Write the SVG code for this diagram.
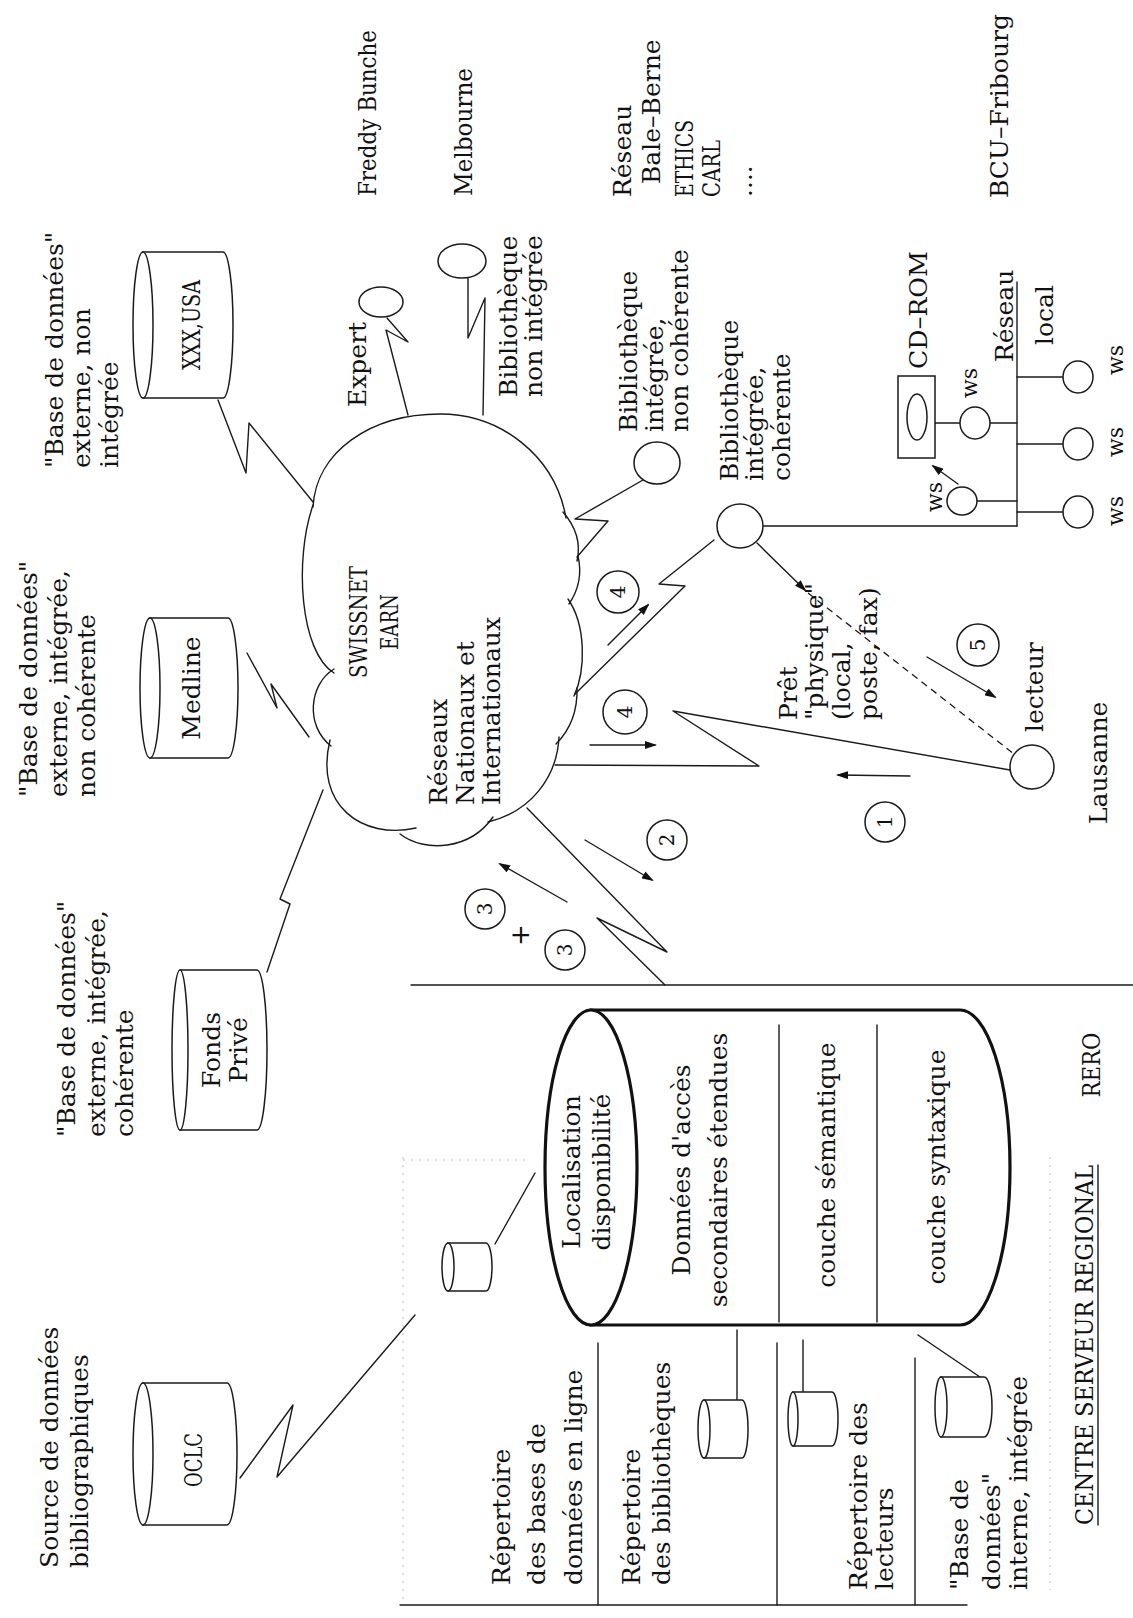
<svg xmlns="http://www.w3.org/2000/svg" width="1133" height="1618" viewBox="0 0 1133 1618">
<style>
.ln{fill:none;stroke:#1a1a1a;stroke-width:1.4;stroke-linejoin:round;stroke-linecap:round}
.sh{fill:#fff;stroke:#1a1a1a;stroke-width:1.5}
.thick{fill:#fff;stroke:#111;stroke-width:3.2}
.dash{fill:none;stroke:#1a1a1a;stroke-width:1.3;stroke-dasharray:7 5}
.faint{fill:none;stroke:#bbb;stroke-width:1;stroke-dasharray:2 6}
.t{font-family:"DejaVu Serif","Liberation Serif",serif;font-size:25px;fill:#111}
.m{text-anchor:middle}
.num{font-family:"DejaVu Serif","Liberation Serif",serif;font-size:20px;fill:#111;text-anchor:middle;dominant-baseline:central}
</style>
<defs>
<marker id="ah" markerWidth="12" markerHeight="8" refX="10" refY="4" orient="auto" markerUnits="userSpaceOnUse">
<path d="M0,0 L12,4 L0,8 z" fill="#111"/>
</marker>
</defs>
<rect width="1133" height="1618" fill="#fff"/>

<g id="places">
<text class="t" textLength="166" lengthAdjust="spacingAndGlyphs" transform="translate(376,196) rotate(-90)">Freddy Bunche</text>
<text class="t" textLength="128" lengthAdjust="spacingAndGlyphs" transform="translate(472,196) rotate(-90)">Melbourne</text>
<text class="t" transform="translate(631,197) rotate(-90)">Réseau</text>
<text class="t" transform="translate(660,184) rotate(-90)">Bale–Berne</text>
<text class="t" textLength="77" lengthAdjust="spacingAndGlyphs" transform="translate(693,197) rotate(-90)">ETHICS</text>
<text class="t" textLength="57" lengthAdjust="spacingAndGlyphs" transform="translate(720,197) rotate(-90)">CARL</text>
<text class="t" transform="translate(752,197) rotate(-90)">....</text>
<text class="t" transform="translate(1008,198) rotate(-90)">BCU–Fribourg</text>
<text class="t" transform="translate(1107,824) rotate(-90)">Lausanne</text>
</g>

<g id="desc-xxx">
<text class="t" transform="translate(63,468) rotate(-90)"><tspan x="0" y="0">"Base de données"</tspan><tspan x="0" y="27">externe, non</tspan><tspan x="0" y="55">intégrée</tspan></text>
</g>
<g id="desc-medline">
<text class="t" transform="translate(37,797) rotate(-90)"><tspan x="0" y="0">"Base de données"</tspan><tspan x="0" y="30">externe, intégrée,</tspan><tspan x="0" y="58">non cohérente</tspan></text>
</g>
<g id="desc-fonds">
<text class="t" transform="translate(75,1137) rotate(-90)"><tspan x="0" y="0">"Base de données"</tspan><tspan x="0" y="30">externe, intégrée,</tspan><tspan x="0" y="58">cohérente</tspan></text>
</g>
<g id="desc-oclc">
<text class="t" transform="translate(58,1568) rotate(-90)"><tspan x="0" y="0">Source de données</tspan><tspan x="0" y="30">bibliographiques</tspan></text>
</g>

<g id="connectors">
<polyline class="ln" points="218,400 246,473 249,423 313,502"/>
<polyline class="ln" points="387,318 408,342 386,330 408,415"/>
<polyline class="ln" points="468,278 468,338 485,298 483,415"/>
<polyline class="ln" points="643,480 575,519 608,521 577,557"/>
<polyline class="ln" points="714,540 659,584 685,586 575,694"/>
<polyline class="ln" points="555,765 759,766 673,711 1010,770"/>
<polyline class="ln" points="527,808 667,952 597,918 665,985"/>
<polyline class="ln" points="247,653 277,708 271,684 309,737"/>
<polyline class="ln" points="267,972 290,904 280,899 323,790"/>
<polyline class="ln" points="240,1478 293,1405 277,1477 415,1315"/>
<line class="ln" x1="1017" y1="282" x2="1017" y2="526"/>
<line class="ln" x1="763" y1="526" x2="1017" y2="526"/>
<line class="ln" x1="757" y1="543" x2="805" y2="590" marker-end="url(#ah)"/>
<line class="dash" x1="808" y1="593" x2="1014" y2="754"/>
<line class="ln" x1="935" y1="423" x2="960" y2="423"/>
<line class="ln" x1="990" y1="423" x2="1017" y2="423"/>
<line class="ln" x1="1017" y1="377" x2="1063" y2="377"/>
<line class="ln" x1="1017" y1="444" x2="1063" y2="444"/>
<line class="ln" x1="1017" y1="512" x2="1063" y2="512"/>
<line class="ln" x1="977" y1="501" x2="1017" y2="501"/>
<line class="ln" x1="958" y1="484" x2="933" y2="466" marker-end="url(#ah)"/>
<line class="ln" x1="608" y1="645" x2="648" y2="605" marker-end="url(#ah)"/>
<line class="ln" x1="590" y1="745" x2="655" y2="745" marker-end="url(#ah)"/>
<line class="ln" x1="585" y1="840" x2="652" y2="880" marker-end="url(#ah)"/>
<line class="ln" x1="567" y1="902" x2="500" y2="864" marker-end="url(#ah)"/>
<line class="ln" x1="927" y1="657" x2="995" y2="697" marker-end="url(#ah)"/>
<line class="ln" x1="910" y1="776" x2="838" y2="775" marker-end="url(#ah)"/>
<line class="ln" x1="495" y1="1244" x2="535" y2="1173"/>
<line class="ln" x1="737" y1="1330" x2="737" y2="1400"/>
<line class="ln" x1="803" y1="1340" x2="803" y2="1392"/>
<line class="ln" x1="918" y1="1335" x2="980" y2="1377"/>
</g>

<g id="cloud">
<path class="ln" d="M313,507 C316,452 370,414 440,414 C500,414 555,455 566,518"/>
<path class="ln" d="M563,512 Q583,535 577,561"/>
<path class="ln" d="M578,556 Q584,582 569,604"/>
<path class="ln" d="M568,599 C586,625 586,670 574,696"/>
<path class="ln" d="M577,688 Q578,722 556,744"/>
<path class="ln" d="M559,737 C557,778 530,812 488,822"/>
<path class="ln" d="M493,817 C470,850 425,853 400,834"/>
<path class="ln" d="M416,828 C362,840 314,805 330,740"/>
<path class="ln" d="M331,746 C305,726 309,684 334,669"/>
<path class="ln" d="M334,673 C300,652 294,560 313,505"/>
<text class="t m" textLength="112" lengthAdjust="spacingAndGlyphs" transform="translate(367,622) rotate(-90)">SWISSNET</text>
<text class="t m" textLength="56" lengthAdjust="spacingAndGlyphs" transform="translate(398,622) rotate(-90)">EARN</text>
<text class="t" transform="translate(447,805) rotate(-90)"><tspan x="0" y="0">Réseaux</tspan><tspan x="0" y="27">Nationaux et</tspan><tspan x="0" y="53">Internationaux</tspan></text>
</g>

<g id="db-xxx">
<path class="sh" d="M143,252 L223,252 A10,73 0 0 1 223,398 L143,398 Z"/>
<ellipse class="sh" cx="143" cy="325" rx="10" ry="73"/>
<text class="t m" textLength="90" lengthAdjust="spacingAndGlyphs" transform="translate(200,325) rotate(-90)">XXX,USA</text>
</g>
<g id="db-medline">
<path class="sh" d="M150,618 L228,618 A10,70 0 0 1 228,758 L150,758 Z"/>
<ellipse class="sh" cx="150" cy="688" rx="10" ry="70"/>
<text class="t m" transform="translate(200,688) rotate(-90)">Medline</text>
</g>
<g id="db-fonds">
<path class="sh" d="M180,970 L257,970 A10,80 0 0 1 257,1130 L180,1130 Z"/>
<ellipse class="sh" cx="180" cy="1050" rx="8" ry="80"/>
<text class="t m" transform="translate(220,1050) rotate(-90)"><tspan x="0" y="0">Fonds</tspan><tspan x="0" y="27">Privé</tspan></text>
</g>
<g id="db-oclc">
<path class="sh" d="M143,1383 L227,1383 A10,71 0 0 1 227,1525 L143,1525 Z"/>
<ellipse class="sh" cx="143" cy="1454" rx="10" ry="71"/>
<text class="t m" textLength="54" lengthAdjust="spacingAndGlyphs" transform="translate(202,1460) rotate(-90)">OCLC</text>
</g>

<g id="expert">
<ellipse class="sh" cx="381" cy="302" rx="22" ry="15"/>
<text class="t" transform="translate(366,407) rotate(-90)">Expert</text>
</g>
<g id="bib-non-integree">
<ellipse class="sh" cx="462" cy="261" rx="24" ry="17"/>
<text class="t" transform="translate(517,397) rotate(-90)"><tspan x="0" y="0">Bibliothèque</tspan><tspan x="0" y="25">non intégrée</tspan></text>
</g>
<g id="bib-integree-non-coherente">
<ellipse class="sh" cx="657" cy="463" rx="23" ry="21"/>
<text class="t" transform="translate(637,432) rotate(-90)"><tspan x="0" y="0">Bibliothèque</tspan><tspan x="0" y="26">intégrée,</tspan><tspan x="0" y="51">non cohérente</tspan></text>
</g>
<g id="bib-integree-coherente">
<ellipse class="sh" cx="740" cy="526" rx="23" ry="22"/>
<text class="t" transform="translate(738,481) rotate(-90)"><tspan x="0" y="0">Bibliothèque</tspan><tspan x="0" y="25">intégrée,</tspan><tspan x="0" y="52">cohérente</tspan></text>
</g>
<g id="lecteur">
<ellipse class="sh" cx="1032" cy="767" rx="22" ry="22"/>
<text class="t" transform="translate(1043,732) rotate(-90)">lecteur</text>
</g>
<g id="pret">
<text class="t" transform="translate(797,720) rotate(-90)"><tspan x="0" y="0">Prêt</tspan><tspan x="0" y="26">"physique"</tspan><tspan x="0" y="53">(local,</tspan><tspan x="0" y="80">poste, fax)</tspan></text>
</g>

<g id="cdrom">
<rect class="sh" x="898" y="376" width="37" height="82"/>
<ellipse class="sh" cx="917" cy="417" rx="10" ry="23"/>
<text class="t" textLength="118" lengthAdjust="spacingAndGlyphs" transform="translate(927,369) rotate(-90)">CD–ROM</text>
</g>
<g id="lan-label">
<text class="t" transform="translate(1013,362) rotate(-90)">Réseau</text>
<text class="t" transform="translate(1053,345) rotate(-90)">local</text>
</g>
<g id="ws1"><ellipse class="sh" cx="975" cy="423" rx="15" ry="16"/><text class="t" style="font-size:22px" transform="translate(977,398) rotate(-90)">ws</text></g>
<g id="ws2"><ellipse class="sh" cx="962" cy="501" rx="15" ry="14"/><text class="t" style="font-size:22px" transform="translate(942,512) rotate(-90)">ws</text></g>
<g id="ws3"><ellipse class="sh" cx="1078" cy="377" rx="15" ry="16"/><text class="t" style="font-size:22px" transform="translate(1123,375) rotate(-90)">ws</text></g>
<g id="ws4"><ellipse class="sh" cx="1078" cy="444" rx="15" ry="16"/><text class="t" style="font-size:22px" transform="translate(1123,457) rotate(-90)">ws</text></g>
<g id="ws5"><ellipse class="sh" cx="1078" cy="512" rx="15" ry="16"/><text class="t" style="font-size:22px" transform="translate(1123,526) rotate(-90)">ws</text></g>

<g id="steps">
<circle class="sh" cx="618" cy="592" r="21"/><text class="num" transform="translate(618,592) rotate(-90)">4</text>
<circle class="sh" cx="625" cy="712" r="22"/><text class="num" transform="translate(625,712) rotate(-90)">4</text>
<circle class="sh" cx="667" cy="840" r="20"/><text class="num" transform="translate(667,840) rotate(-90)">2</text>
<circle class="sh" cx="485" cy="909" r="20"/><text class="num" transform="translate(485,909) rotate(-90)">3</text>
<text class="num" style="font-size:26px" transform="translate(520,935) rotate(-90)">+</text>
<circle class="sh" cx="565" cy="950" r="20"/><text class="num" transform="translate(565,950) rotate(-90)">3</text>
<circle class="sh" cx="978" cy="645" r="21"/><text class="num" transform="translate(978,645) rotate(-90)">5</text>
<circle class="sh" cx="885" cy="822" r="20"/><text class="num" transform="translate(885,822) rotate(-90)">1</text>
</g>

<g id="server-frame">
<line class="ln" x1="411" y1="985" x2="1133" y2="985"/>
<line class="ln" x1="400" y1="1605" x2="967" y2="1605"/>
<line class="faint" x1="403" y1="1157" x2="403" y2="1600"/>
<line class="faint" x1="403" y1="1160" x2="530" y2="1160"/>
<line class="faint" x1="1050" y1="1157" x2="1050" y2="1590"/>
<line class="ln" x1="598" y1="1343" x2="598" y2="1605"/>
<line class="ln" x1="777" y1="1343" x2="777" y2="1605"/>
<line class="ln" x1="915" y1="1358" x2="915" y2="1605"/>
</g>
<g id="server-cylinder">
<path class="thick" d="M591,1010 L960,1010 A50,157.5 0 0 1 960,1325 L591,1325 Z"/>
<ellipse class="thick" cx="591" cy="1167.5" rx="46" ry="157.5"/>
<line class="ln" x1="779" y1="1025" x2="779" y2="1322"/>
<line class="ln" x1="877" y1="1025" x2="877" y2="1322"/>
<text class="t m" transform="translate(580,1172) rotate(-90)"><tspan x="0" y="0">Localisation</tspan><tspan x="0" y="30">disponibilité</tspan></text>
<text class="t m" transform="translate(690,1170) rotate(-90)"><tspan x="0" y="0">Données d'accès</tspan><tspan x="0" y="37">secondaires étendues</tspan></text>
<text class="t m" transform="translate(835,1165) rotate(-90)">couche sémantique</text>
<text class="t m" transform="translate(945,1167) rotate(-90)">couche syntaxique</text>
</g>
<g id="rep-bases">
<path class="sh" d="M448,1243 L486,1243 A6,24 0 0 1 486,1291 L448,1291 Z"/>
<ellipse class="sh" cx="448" cy="1267" rx="6" ry="24"/>
<text class="t" transform="translate(510,1585) rotate(-90)"><tspan x="0" y="0">Répertoire</tspan><tspan x="0" y="35">des bases de</tspan><tspan x="0" y="72">données en ligne</tspan></text>
</g>
<g id="rep-bibliotheques">
<path class="sh" d="M704,1400 L742,1400 A6,29 0 0 1 742,1458 L704,1458 Z"/>
<ellipse class="sh" cx="704" cy="1429" rx="6" ry="29"/>
<text class="t" transform="translate(640,1585) rotate(-90)"><tspan x="0" y="0">Répertoire</tspan><tspan x="0" y="30">des bibliothèques</tspan></text>
</g>
<g id="rep-lecteurs">
<path class="sh" d="M793,1392 L832,1392 A6,27 0 0 1 832,1446 L793,1446 Z"/>
<ellipse class="sh" cx="793" cy="1419" rx="5" ry="27"/>
<text class="t" transform="translate(867,1590) rotate(-90)"><tspan x="0" y="0">Répertoire des</tspan><tspan x="0" y="26">lecteurs</tspan></text>
</g>
<g id="db-interne">
<path class="sh" d="M941,1377 L984,1377 A8,30 0 0 1 984,1437 L941,1437 Z"/>
<ellipse class="sh" cx="941" cy="1407" rx="6" ry="30"/>
<text class="t" transform="translate(968,1590) rotate(-90)"><tspan x="0" y="0">"Base de</tspan><tspan x="0" y="32">données"</tspan><tspan x="0" y="59">interne, intégrée</tspan></text>
</g>
<g id="server-title">
<text class="t m" textLength="360" lengthAdjust="spacingAndGlyphs" transform="translate(1093,1345) rotate(-90)">CENTRE SERVEUR REGIONAL</text>
<line class="ln" x1="1098" y1="1165" x2="1098" y2="1525"/>
<text class="t m" textLength="65" lengthAdjust="spacingAndGlyphs" transform="translate(1100,1065) rotate(-90)">RERO</text>
</g>
</svg>
